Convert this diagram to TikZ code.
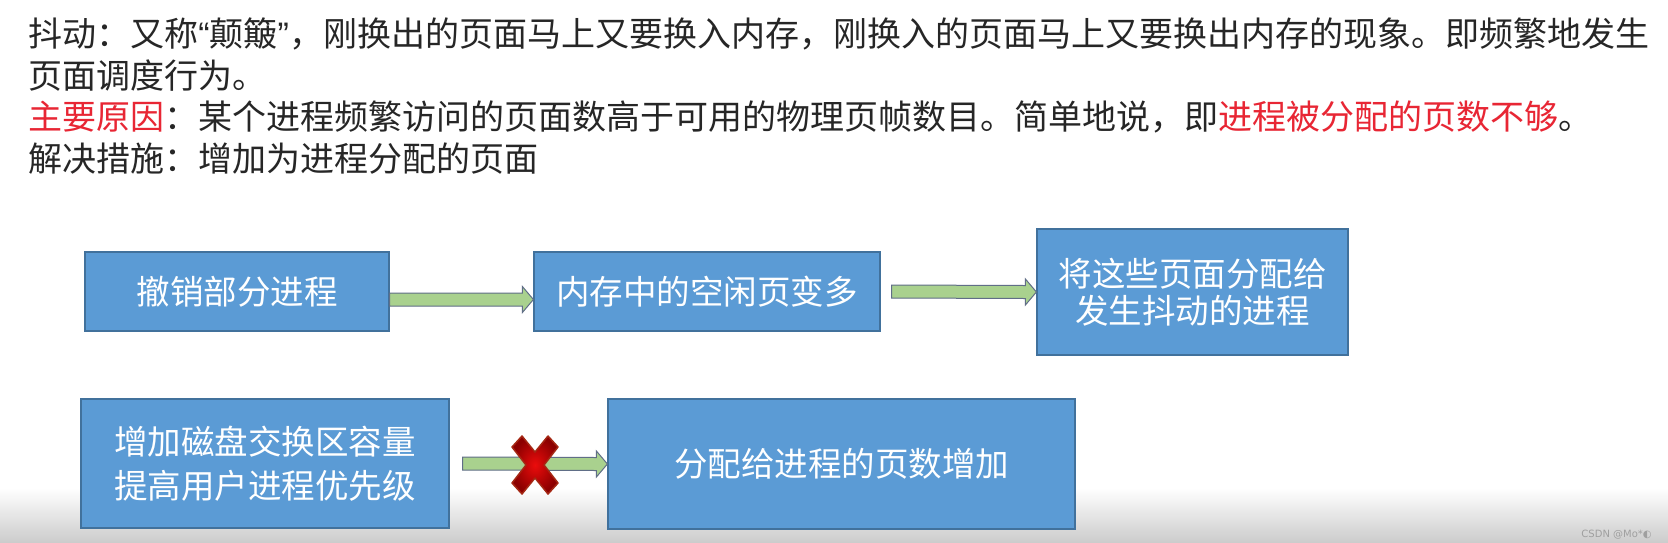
\documentclass[tikz,border=0pt]{standalone}
\usepackage{fontspec}
\setmainfont{Noto Sans CJK SC}
\newfontfamily\wmfont{DejaVu Sans}
\newfontfamily\quotefont{Liberation Sans}
\usetikzlibrary{calc}

\definecolor{boxblue}{RGB}{91,155,213}
\definecolor{boxedge}{RGB}{65,113,156}
\definecolor{arrgreen}{RGB}{169,209,142}
\definecolor{arredge}{RGB}{96,110,135}
\definecolor{txtgray}{RGB}{38,38,38}
\definecolor{keyred}{RGB}{232,38,52}
\definecolor{crossin}{RGB}{235,12,12}
\definecolor{crossout}{RGB}{140,0,0}
\definecolor{crossedge}{RGB}{165,40,20}

\tikzset{every picture/.style={line width=0.75pt}}
\tikzset{
  pagebox/.style={draw=boxedge, fill=boxblue, line width=1.2pt, text=white,
    font=\fontsize{33.5}{37}\selectfont, align=center, inner sep=0pt},
  blockarrow/.style={draw=arredge, fill=arrgreen, line width=1pt},
  headline/.style={anchor=west, inner sep=0pt, text=txtgray,
    font=\fontsize{34}{40}\selectfont}
}

\begin{document}
\begin{tikzpicture}[x=1pt,y=1pt,yscale=-1,xscale=1]
		\useasboundingbox (0,0) rectangle (1668,542);
		\fill[white] (0,0) rectangle (1668,542);
		%Shape: bottom shade
		\shade[top color=white, bottom color=gray!40] (0,488) rectangle (1668,542);

		% Text Node
		\node[headline] (l1) at (28,34) {抖动：又称{\quotefont “}颠簸{\quotefont ”}，刚换出的页面马上又要换入内存，刚换入的页面马上又要换出内存的现象。即频繁地发生};
		% Text Node
		\node[headline] (l2) at (28,76) {页面调度行为。};
		% Text Node
		\node[headline] (l3) at (28,117) {\textcolor{keyred}{主要原因}：某个进程频繁访问的页面数高于可用的物理页帧数目。简单地说，即\textcolor{keyred}{进程被分配的页数不够}。};
		% Text Node
		\node[headline] (l4) at (28,159) {解决措施：增加为进程分配的页面};

		%Shape: Rectangle
		\node[pagebox, minimum width=304, minimum height=79] (b1) at (237,291.5) {撤销部分进程};
		%Shape: Rectangle
		\node[pagebox, minimum width=346, minimum height=79] (b2) at (707,291.5) {内存中的空闲页变多};
		%Shape: Rectangle
		\node[pagebox, minimum width=311, minimum height=126] (b3) at (1192.5,292) {将这些页面分配给\\发生抖动的进程};
		%Shape: Rectangle
		\node[pagebox, minimum width=368, minimum height=129] (b4) at (265,463.5) {增加磁盘交换区容量\\[7pt]提高用户进程优先级};
		%Shape: Rectangle
		\node[pagebox, minimum width=467, minimum height=130] (b5) at (841.5,464) {分配给进程的页数增加};

		%Block Arrows
		\foreach \s/\t/\g/\dy in {b1/b2/0/8, b2/b3/11/0, b4/b5/13/0}
			\draw[blockarrow] ($(\s.east)+(\g,\dy-6.5)$) -- ($(\t.west)+(-11,\dy-6.5)$) -- ($(\t.west)+(-11,\dy-13)$) -- ($(\t.west)+(0,\dy)$) -- ($(\t.west)+(-11,\dy+13)$) -- ($(\t.west)+(-11,\dy+6.5)$) -- ($(\s.east)+(\g,\dy+6.5)$) -- cycle;

		%Shape: Cross
		\shadedraw[draw=crossedge, line width=1.5pt, inner color=crossin, outer color=crossout, line join=round]
			(512,447) -- (522,436) -- (535,452) -- (548,436) -- (558,447) -- (544,465) -- (558,483) -- (548,494) -- (535,478) -- (522,494) -- (512,483) -- (526,465) -- cycle;

		% Text Node
		\node[anchor=east, inner sep=0pt, text=gray!75, font=\wmfont\fontsize{10}{12}\selectfont] (wm) at (1652,535) {CSDN @Mo*◐};
\end{tikzpicture}
\end{document}
